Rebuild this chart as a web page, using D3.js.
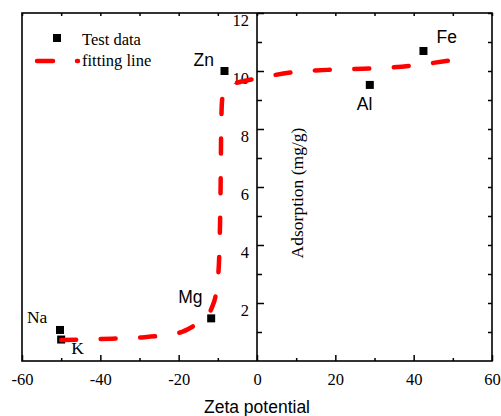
<!DOCTYPE html>
<html><head><meta charset="utf-8">
<script src="https://cdn.jsdelivr.net/npm/d3@7"></script>
<style>html,body{margin:0;padding:0;background:#fff;}svg{display:block;}</style>
</head><body>
<svg id="chart" width="501" height="416"></svg>
<script>
// ---- data ----
const ions = ["Na", "K", "Mg", "Zn", "Al", "Fe"];
const zeta = [-50.3, -50.0, -11.7, -8.3, 28.8, 42.5];
const adsorption = [1.07, 0.74, 1.47, 10.0, 9.52, 10.69];

const fitX = [-50, -40, -30, -20, -16, -13, -11.5, -10.5, -10, -9.6, -9.4, -9.25, -9.15, -8.9, -8.2, -6, -1, 4, 10, 20, 30, 40, 45, 49];
const fitY = [0.72, 0.76, 0.81, 0.97, 1.22, 1.5, 1.85, 2.3, 2.8, 3.8, 5.0, 6.5, 8.0, 9.0, 9.4, 9.55, 9.72, 9.85, 9.97, 10.05, 10.09, 10.19, 10.28, 10.36];

const xMajor = [-60, -40, -20, 0, 20, 40, 60];
const xMinor = [-50, -30, -10, 10, 30, 50];
const yMajor = [2, 4, 6, 8, 10, 12];
const yMinor = [1, 3, 5, 7, 9, 11];

const xTitle = "Zeta potential";
const yTitle = "Adsorption (mg/g)";
const legendLabels = ["Test data", "fitting line"];

// ---- layout ----
const svg = d3.select("#chart");
const L = 22, R = 492, T = 13, B = 361;
const x = d3.scaleLinear().domain([-60, 60]).range([L, R]);
const y = d3.scaleLinear().domain([0, 12]).range([B, T]);
const serif = "'Liberation Serif','Times New Roman',serif";
const sans = "'Liberation Sans',Arial,sans-serif";

// frame
svg.append("rect").attr("x", L).attr("y", T).attr("width", R - L).attr("height", B - T)
  .attr("fill", "none").attr("stroke", "#000").attr("stroke-width", 1.6);

function styleAxis(g) {
  g.select(".domain").remove();
  g.selectAll(".tick line").attr("stroke", "#000").attr("stroke-width", 1.5);
}

// bottom axis: ticks pointing up
svg.append("g").attr("transform", `translate(0,${B})`)
  .call(d3.axisBottom(x).tickValues(xMinor).tickSize(-3).tickFormat(""))
  .call(styleAxis);
svg.append("g").attr("transform", `translate(0,${B})`)
  .call(d3.axisBottom(x).tickValues(xMajor).tickSize(-6).tickPadding(12).tickFormat(d3.format("d")))
  .call(styleAxis)
  .call(g => g.selectAll("text").attr("font-family", serif).attr("font-size", 16.5).attr("fill", "#000")
    .text(d => d < 0 ? "-" + Math.abs(d) : d));

// top axis: ticks pointing down
svg.append("g").attr("transform", `translate(0,${T})`)
  .call(d3.axisBottom(x).tickValues(xMajor.concat(xMinor)).tickSize(3).tickFormat(""))
  .call(styleAxis);

// right axis: ticks pointing left
svg.append("g").attr("transform", `translate(${R},0)`)
  .call(d3.axisRight(y).tickValues(yMajor.concat(yMinor)).tickSize(-4).tickFormat(""))
  .call(styleAxis);

// center y axis at x=0
const x0 = x(0);
svg.append("line").attr("x1", x0).attr("x2", x0).attr("y1", T).attr("y2", B)
  .attr("stroke", "#000").attr("stroke-width", 1.6);
svg.append("g").attr("transform", `translate(${x0},0)`)
  .call(d3.axisLeft(y).tickValues(yMinor).tickSize(-5).tickFormat(""))
  .call(styleAxis);
svg.append("g").attr("transform", `translate(${x0},0)`)
  .call(d3.axisLeft(y).tickValues(yMajor).tickSize(-7).tickPadding(8).tickFormat(d3.format("d")))
  .call(styleAxis)
  .call(g => g.selectAll("text").attr("font-family", serif).attr("font-size", 16.5).attr("fill", "#000")
    .attr("x", -8).attr("y", 7));

// titles
svg.append("text").attr("x", (L + R) / 2).attr("y", 413).attr("text-anchor", "middle")
  .attr("font-family", sans).attr("font-size", 17.5).attr("fill", "#000").text(xTitle);
svg.append("text").attr("transform", `translate(303,193) rotate(-90)`).attr("text-anchor", "middle")
  .attr("font-family", serif).attr("font-size", 17.5).attr("fill", "#000").text(yTitle);

// data squares
const pts = ions.map((n, i) => ({ n, x: zeta[i], y: adsorption[i] }));
const sq = 8;
svg.append("g").selectAll("rect").data(pts).join("rect")
  .attr("x", d => x(d.x) - sq / 2).attr("y", d => y(d.y) - sq / 2)
  .attr("width", sq).attr("height", sq).attr("fill", "#000");

// fitting line
const fit = fitX.map((v, i) => [v, fitY[i]]);
const lineGen = d3.line().x(d => x(d[0])).y(d => y(d[1])).curve(d3.curveMonotoneX);
svg.append("path").attr("d", lineGen(fit)).attr("fill", "none")
  .attr("stroke", "#ff0000").attr("stroke-width", 4.5)
  .attr("stroke-linecap", "round").attr("stroke-dasharray", "15,24.5");

// point labels
const labelPos = {
  Na: { dx: -33, dy: -7, font: serif },
  K:  { dx: 10, dy: 14, font: serif },
  Mg: { dx: -33, dy: -15, font: sans },
  Zn: { dx: -31, dy: -5, font: sans },
  Al: { dx: -13, dy: 25, font: sans },
  Fe: { dx: 13, dy: -8, font: sans }
};
svg.append("g").selectAll("text").data(pts).join("text")
  .attr("x", d => x(d.x) + labelPos[d.n].dx).attr("y", d => y(d.y) + labelPos[d.n].dy)
  .attr("font-family", d => labelPos[d.n].font).attr("font-size", 17.5)
  .attr("fill", "#000").text(d => d.n);

// legend
const lg = svg.append("g");
lg.append("rect").attr("x", 53).attr("y", 34).attr("width", 8).attr("height", 8).attr("fill", "#000");
lg.append("text").attr("x", 82).attr("y", 45).attr("font-family", serif).attr("font-size", 16.5)
  .attr("fill", "#000").text(legendLabels[0]);
lg.append("line").attr("x1", 37).attr("x2", 78).attr("y1", 61).attr("y2", 61)
  .attr("stroke", "#ff0000").attr("stroke-width", 4.5).attr("stroke-linecap", "round")
  .attr("stroke-dasharray", "16,24");
lg.append("text").attr("x", 82).attr("y", 66).attr("font-family", serif).attr("font-size", 16.5)
  .attr("fill", "#000").text(legendLabels[1]);
</script>
</body></html>
